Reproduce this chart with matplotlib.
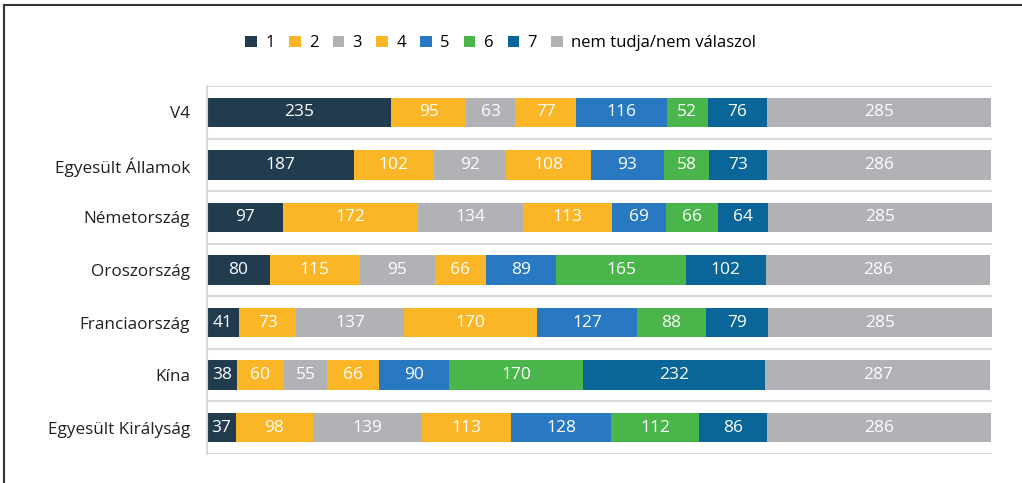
import matplotlib.pyplot as plt
from matplotlib.patches import Patch
import numpy as np

plt.rcParams['font.family'] = ['Open Sans', 'DejaVu Sans']

countries = ["V4", "Egyesült Államok", "Németország", "Oroszország",
             "Franciaország", "Kína", "Egyesült Királyság"]
labels = ["1", "2", "3", "4", "5", "6", "7", "nem tudja/nem válaszol"]
colors = ["#223c4f", "#fbb627", "#b1b2b5", "#fbb627", "#2878c2",
          "#4ab54b", "#0a6698", "#b1b2b5"]

s1 = [235, 187, 97, 80, 41, 38, 37]
s2 = [95, 102, 172, 115, 73, 60, 98]
s3 = [63, 92, 134, 95, 137, 55, 139]
s4 = [77, 108, 113, 66, 170, 66, 113]
s5 = [116, 93, 69, 89, 127, 90, 128]
s6 = [52, 58, 66, 165, 88, 170, 112]
s7 = [76, 73, 64, 102, 79, 232, 86]
s_nt = [285, 286, 285, 286, 285, 287, 286]
series = [s1, s2, s3, s4, s5, s6, s7, s_nt]

fig = plt.figure(figsize=(10.22, 4.83), dpi=100)
ax = fig.add_axes([0.2025, 0.06, 0.768, 0.762])

y = np.arange(len(countries))
left = np.zeros(len(countries))
for vals, col in zip(series, colors):
    vals = np.array(vals)
    ax.barh(y, vals, left=left, height=0.56, color=col, edgecolor='none')
    for yi, l, v in zip(y, left, vals):
        ax.text(l + v / 2, yi, str(v), ha='center', va='center',
                color='white', fontsize=12.5)
    left += vals

ax.set_xlim(0, 1000)
ax.set_ylim(len(countries) - 0.5, -0.5)
ax.set_yticks(y)
ax.set_yticklabels(countries, fontsize=12.3, color='#231f20')
ax.tick_params(axis='y', length=0, pad=12)
ax.set_xticks([])
for b in np.arange(-0.5, len(countries), 1):
    ax.axhline(b, color='#d9d9d9', lw=1.5, zorder=0)
for sp in ['top', 'right', 'bottom']:
    ax.spines[sp].set_visible(False)
ax.spines['left'].set_color('#d9d9d9')
ax.spines['left'].set_linewidth(1.5)

handles = [Patch(facecolor=c, edgecolor='none') for c in colors]
fig.legend(handles, labels, loc='center', bbox_to_anchor=(0.49, 0.91),
           ncol=8, frameon=False, fontsize=12, handlelength=0.7,
           handleheight=0.7, handletextpad=0.5, columnspacing=0.85)

# figure frame (top and left edges visible)
fig.add_artist(plt.Line2D([0.004, 1.0], [0.99, 0.99], color='#333333', lw=1.5,
                          transform=fig.transFigure))
fig.add_artist(plt.Line2D([0.004, 0.004], [0.0, 0.99], color='#333333', lw=1.5,
                          transform=fig.transFigure))

fig.savefig("out.png", dpi=100)
